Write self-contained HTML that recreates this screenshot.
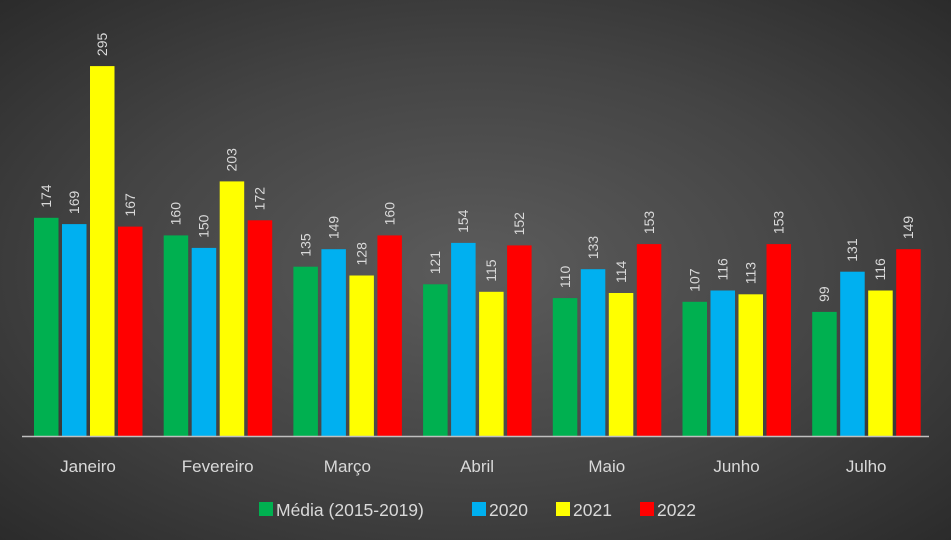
<!DOCTYPE html>
<html><head><meta charset="utf-8"><style>
html,body{margin:0;padding:0;width:951px;height:540px;overflow:hidden}
body{background:radial-gradient(ellipse at 50% 50%,#5c5c5c 0%,#444 55%,#2b2b2b 100%)}
text{font-family:"Liberation Sans",sans-serif;fill:#d9d9d9}
</style></head><body>
<svg width="951" height="540" xmlns="http://www.w3.org/2000/svg" id="c"></svg>
<script>
const data=[["Janeiro",174,169,295,167],["Fevereiro",160,150,203,172],["Março",135,149,128,160],["Abril",121,154,115,152],["Maio",110,133,114,153],["Junho",107,116,113,153],["Julho",99,131,116,149]];
const cols=["#00b050","#00b0f0","#ffff00","#ff0000"];
const base=436,k=1.254;let s="";
data.forEach((d,i)=>{const cx=88+i*129.7;
for(let j=0;j<4;j++){const x=cx-54+j*28,h=d[j+1]*k,y=base-h;
s+=`<rect x="${x.toFixed(1)}" y="${y.toFixed(1)}" width="24.5" height="${h.toFixed(1)}" fill="${cols[j]}"/>`;
const tx=x+12+5,ty=y-10;s+=`<text x="${tx}" y="${ty}" font-size="14" transform="rotate(-90 ${tx} ${ty})">${d[j+1]}</text>`;}
s+=`<text x="${cx}" y="472" font-size="17" text-anchor="middle">${d[0]}</text>`;});
s+=`<line x1="22" y1="436.5" x2="929" y2="436.5" stroke="#bfbfbf" stroke-width="1.5"/>`;
const leg=[[259,"Média (2015-2019)"],[472,"2020"],[556,"2021"],[640,"2022"]];
leg.forEach((l,j)=>{s+=`<rect x="${l[0]}" y="502" width="14" height="14" fill="${cols[j]}"/><text x="${l[0]+17}" y="516" font-size="17.5">${l[1]}</text>`;});
document.getElementById("c").innerHTML=s;
</script>
</body></html>
